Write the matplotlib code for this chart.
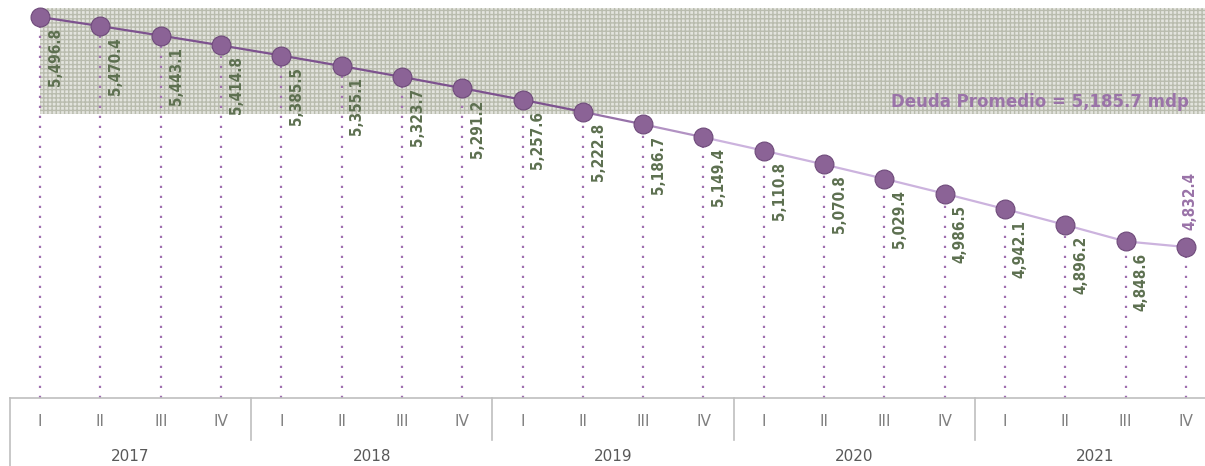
import matplotlib.pyplot as plt
import numpy as np
from matplotlib.collections import LineCollection
import matplotlib.transforms as mtransforms

years = ["2017", "2018", "2019", "2020", "2021"]
quarters = ["I", "II", "III", "IV"]
deuda = [5496.8, 5470.4, 5443.1, 5414.8, 5385.5, 5355.1, 5323.7, 5291.2,
         5257.6, 5222.8, 5186.7, 5149.4, 5110.8, 5070.8, 5029.4, 4986.5,
         4942.1, 4896.2, 4848.6, 4832.4]
promedio = 5185.7

purple = "#8b6396"
green = "#5d7050"
gray = "#7f7f7f"

fig = plt.figure(figsize=(12.05, 4.66), dpi=100)
W, H = 1205, 466
ax = fig.add_axes([10 / W, 68 / H, 1206 / W, 398 / H])
x = np.arange(len(deuda))
ax.set_xlim(-0.5, len(deuda) - 0.5)
ax.set_ylim(4396.2, 5545.9)
ax.axis("off")

# shaded band
ax.fill_between([0, len(deuda) - 0.5], 5217, 5522, facecolor="#e3e4de",
                edgecolor="#b9bcae", hatch="++++", linewidth=0, zorder=0)

# drop lines
for xi, v in zip(x, deuda):
    ax.plot([xi, xi], [4396.2, v], color="#a070b0", linestyle=(0, (1, 3.5)),
            linewidth=1.6, zorder=1)

# line, fading to light purple after the middle
pts = np.column_stack([x, deuda])
segs = np.stack([pts[:-1], pts[1:]], axis=1)
c0 = np.array([0.49, 0.32, 0.56])
c1 = np.array([0.80, 0.70, 0.87])
cols = [c0 + (c1 - c0) * min(1, max(0, (i - 8) / 3)) for i in range(len(segs))]
ax.add_collection(LineCollection(segs, colors=cols, linewidths=1.6, zorder=2))

ax.scatter(x, deuda, s=185, color=purple, edgecolors="#6e4a7a", linewidths=0.8, zorder=3)

# value labels
for xi, v in zip(x[:-1], deuda[:-1]):
    ax.annotate(f"{v:,.1f}", (xi, v), xytext=(11, -8), textcoords="offset points",
                rotation=90, ha="center", va="top", color=green, fontsize=11,
                fontweight="semibold", fontstretch="condensed", family="DejaVu Sans")
ax.annotate(f"{deuda[-1]:,.1f}", (x[-1], deuda[-1]), xytext=(3, 12), textcoords="offset points",
            rotation=90, ha="center", va="bottom", color="#9a73a8", fontsize=11,
            fontweight="semibold", fontstretch="condensed", family="DejaVu Sans")

ax.text(19.05, 5226, f"Deuda Promedio = {promedio:,.1f} mdp", ha="right",
        va="bottom", color="#9a73a8", fontsize=12, fontweight="bold")

# category axis
trans = mtransforms.blended_transform_factory(ax.transData, ax.transAxes)
ax.plot([-0.5, len(deuda) - 0.5], [0, 0], color="#bfbfbf", linewidth=1.2,
        transform=trans, clip_on=False)
for g in range(len(years) + 1):
    xs = g * 4 - 0.5
    ax.plot([xs, xs], [0, -0.171 if g == 0 else -0.105], color="#bfbfbf",
            linewidth=1.2, transform=trans, clip_on=False)
for i in range(len(deuda)):
    ax.text(i, -0.058, quarters[i % 4], ha="center", va="center", color=gray,
            fontsize=11, transform=trans)
for g, yr in enumerate(years):
    ax.text(g * 4 + 1.5, -0.146, yr, ha="center", va="center", color="#595959",
            fontsize=11, transform=trans)

fig.savefig("out.png", dpi=100)
